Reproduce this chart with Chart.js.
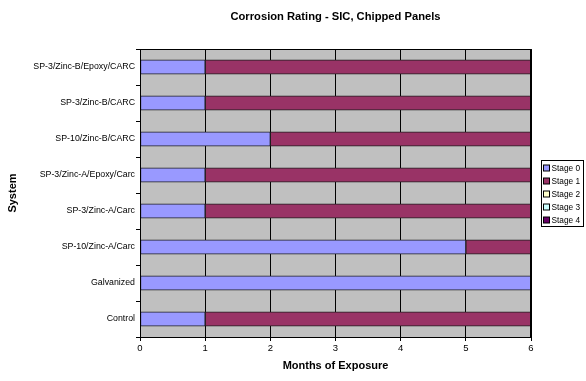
<!DOCTYPE html>
<html>
<head>
<meta charset="utf-8">
<script src="https://cdn.jsdelivr.net/npm/chart.js@4.4.1/dist/chart.umd.min.js"></script>
<style>
  html, body { margin: 0; padding: 0; background: #ffffff; }
  #wrap { width: 586px; height: 381px; position: relative; }
</style>
</head>
<body>
<div id="wrap"><canvas id="c" width="586" height="381"></canvas></div>
<script>
// Systems, listed top to bottom
const systems = [
  'SP-3/Zinc-B/Epoxy/CARC',
  'SP-3/Zinc-B/CARC',
  'SP-10/Zinc-B/CARC',
  'SP-3/Zinc-A/Epoxy/Carc',
  'SP-3/Zinc-A/Carc',
  'SP-10/Zinc-A/Carc',
  'Galvanized',
  'Control'
];

// Months spent at each corrosion stage
const stage0 = [1, 1, 2, 1, 1, 5, 6, 1];
const stage1 = [5, 5, 4, 5, 5, 1, 0, 5];
const stage2 = [0, 0, 0, 0, 0, 0, 0, 0];
const stage3 = [0, 0, 0, 0, 0, 0, 0, 0];
const stage4 = [0, 0, 0, 0, 0, 0, 0, 0];

const stageNames = ['Stage 0', 'Stage 1', 'Stage 2', 'Stage 3', 'Stage 4'];
const monthTicks = [0, 1, 2, 3, 4, 5, 6];

const stageColors = ['#9999FF', '#993366', '#FFFFCC', '#CCFFFF', '#660066'];
const FONT = '"Liberation Sans", Arial, sans-serif';

const series = [stage0, stage1, stage2, stage3, stage4];
const datasets = series.map((vals, i) => ({
  label: stageNames[i],
  data: vals,
  backgroundColor: stageColors[i],
  borderColor: '#1e1e1e',
  borderWidth: ctx => (ctx.raw > 0 ? 1 : 0),
  borderSkipped: false,
  barThickness: 14.5
}));

// Gray plot background and black frame around the plot area
const plotFrame = {
  id: 'plotFrame',
  beforeDraw(chart) {
    const a = chart.chartArea, ctx = chart.ctx;
    ctx.save();
    ctx.fillStyle = '#C0C0C0';
    ctx.fillRect(a.left, a.top, a.right - a.left, a.bottom - a.top);
    ctx.restore();
  },
  afterDatasetsDraw(chart) {
    const a = chart.chartArea, ctx = chart.ctx;
    ctx.save();
    ctx.strokeStyle = '#000';
    ctx.lineWidth = 1;
    ctx.strokeRect(Math.round(a.left) + 0.5, Math.round(a.top) + 0.5,
                   Math.round(a.right - a.left) - 1, Math.round(a.bottom - a.top));
    ctx.restore();
  }
};

// Boxed legend at the right of the plot
const boxLegend = {
  id: 'boxLegend',
  afterDraw(chart) {
    const ctx = chart.ctx;
    const x0 = 541.5, y0 = 160.5, w = 42, h = 66, pitch = 13.1;
    ctx.save();
    ctx.fillStyle = '#fff';
    ctx.fillRect(x0, y0, w, h);
    ctx.strokeStyle = '#000';
    ctx.lineWidth = 1;
    ctx.strokeRect(x0, y0, w, h);
    ctx.font = '8.3px ' + FONT;
    ctx.textBaseline = 'middle';
    chart.data.datasets.forEach((ds, i) => {
      const cy = Math.round(y0 + 7 + i * pitch);
      ctx.fillStyle = ds.backgroundColor;
      ctx.fillRect(x0 + 2, cy - 3, 6, 6);
      ctx.strokeStyle = '#000';
      ctx.strokeRect(x0 + 2, cy - 3, 6, 6);
      ctx.fillStyle = '#000';
      ctx.fillText(ds.label, x0 + 10, cy + 0.5);
    });
    ctx.restore();
  }
};

new Chart(document.getElementById('c'), {
  type: 'bar',
  data: { labels: systems, datasets },
  plugins: [plotFrame, boxLegend],
  options: {
    indexAxis: 'y',
    responsive: false,
    animation: false,
    devicePixelRatio: 1,
    layout: { padding: { left: 0, right: 55, top: 0, bottom: 0 } },
    plugins: {
      legend: { display: false },
      tooltip: { enabled: false },
      title: {
        display: true,
        fullSize: false,
        text: 'Corrosion Rating - SIC, Chipped Panels',
        color: '#000',
        font: { family: FONT, size: 11.2, weight: 'bold', lineHeight: 1.2 },
        padding: { top: 10.3, bottom: 25.3 }
      }
    },
    scales: {
      x: {
        stacked: true,
        min: 0,
        max: 6,
        afterFit(scale) { scale.height = 44; },
        afterBuildTicks(scale) { scale.ticks = monthTicks.map(v => ({ value: v })); },
        border: { display: true, color: '#000', width: 1 },
        grid: { color: '#000', lineWidth: 1, tickLength: 4, drawTicks: true },
        ticks: { color: '#000', padding: 2, font: { family: FONT, size: 9.5 } },
        title: {
          display: true,
          text: 'Months of Exposure',
          color: '#000',
          font: { family: FONT, size: 11, weight: 'bold', lineHeight: 1.2 },
          padding: { top: 0, bottom: 8.4 }
        }
      },
      y: {
        stacked: true,
        afterFit(scale) { scale.width = 140; },
        border: { display: true, color: '#000', width: 1 },
        grid: { offset: true, drawOnChartArea: false, color: '#000', tickLength: 4 },
        ticks: { color: '#000', padding: 1, font: { family: FONT, size: 8.8 } },
        title: {
          display: true,
          text: 'System',
          color: '#000',
          font: { family: FONT, size: 11, weight: 'bold', lineHeight: 1.2 },
          padding: { top: 6, bottom: 0 }
        }
      }
    }
  }
});
</script>
</body>
</html>
